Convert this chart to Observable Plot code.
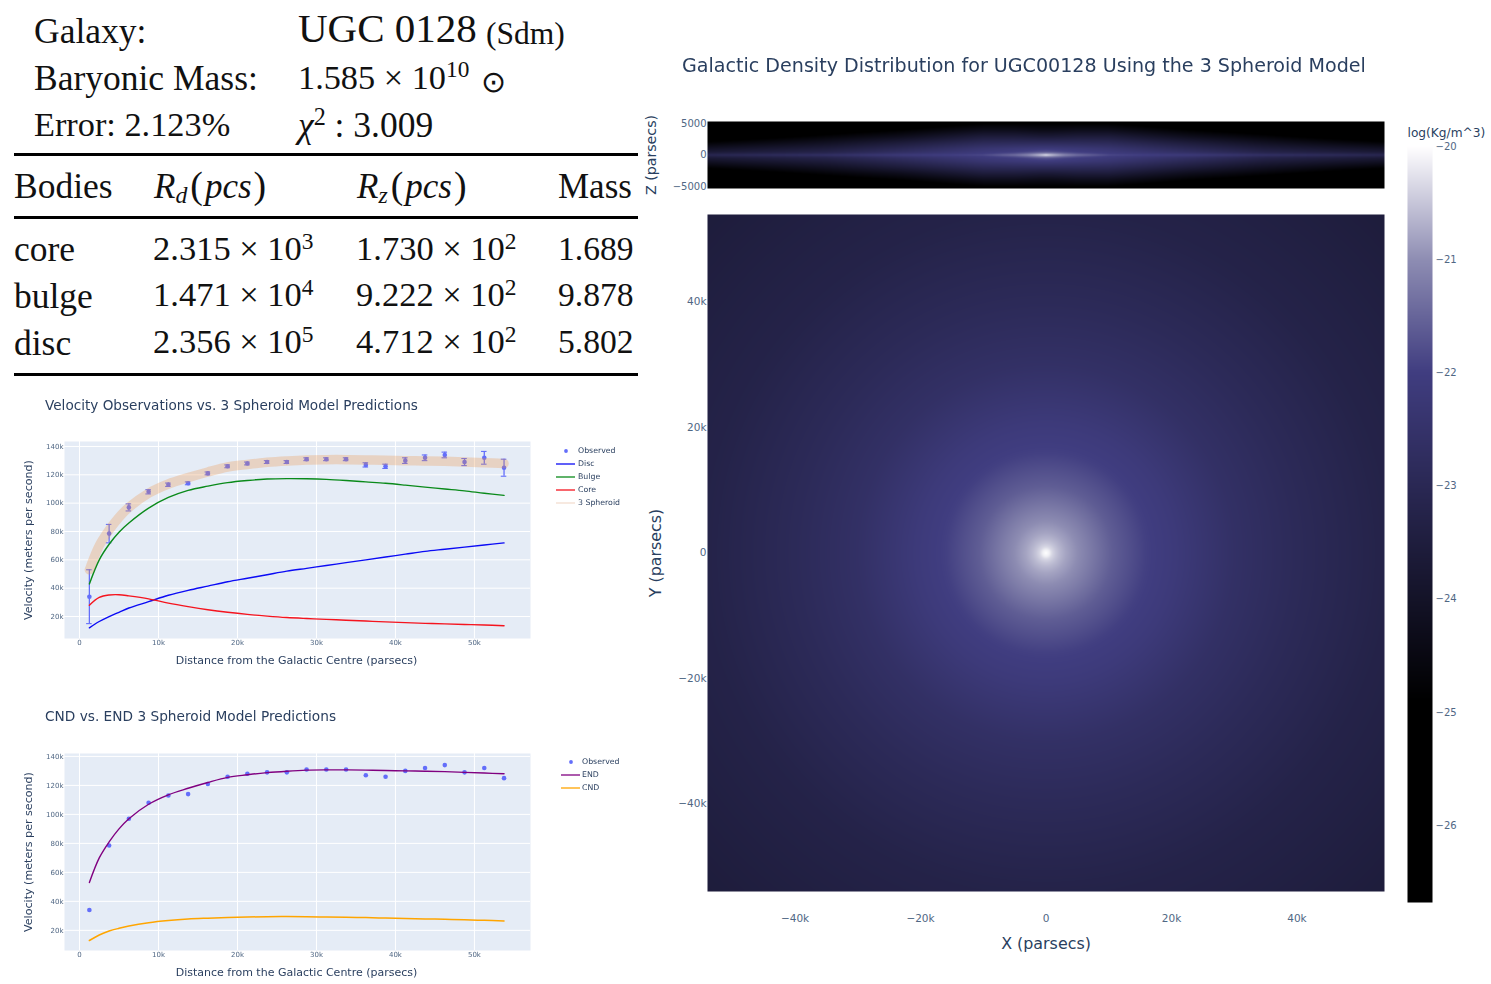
<!DOCTYPE html>
<html><head><meta charset="utf-8">
<script src="https://cdn.jsdelivr.net/npm/d3@7"></script>
<script src="https://cdn.jsdelivr.net/npm/@observablehq/plot@0.6"></script>
<style>
html,body{margin:0;padding:0;background:#fff}
#page{position:relative;width:1491px;height:984px;overflow:hidden;background:#fff}
#page>*{position:absolute}
.tex{font-family:"Liberation Serif",serif;color:#111;white-space:nowrap;line-height:1}
.tex i{font-style:italic}
.tex sup{font-size:.68em;vertical-align:baseline;position:relative;top:-.5em;line-height:0}
.tex sub{font-size:.68em;vertical-align:baseline;position:relative;top:.22em;line-height:0}
.rule{background:#000;left:14px;width:624px}
.t{font-family:"DejaVu Sans",sans-serif;color:#2a3f5f;white-space:nowrap;line-height:1}
.lg{font-family:"DejaVu Sans",sans-serif;color:#2a3f5f;white-space:nowrap;line-height:1}
.soft{filter:blur(.45px)}
svg{overflow:visible}
</style></head><body><div id="page"></div>
<script>
// ---------- data ----------
const bodies = ["core", "bulge", "disc"];
const rdValues = ["2.315 × 10<sup>3</sup>", "1.471 × 10<sup>4</sup>", "2.356 × 10<sup>5</sup>"];
const rzValues = ["1.730 × 10<sup>2</sup>", "9.222 × 10<sup>2</sup>", "4.712 × 10<sup>2</sup>"];
const massValues = ["1.689", "9.878", "5.802"];

const distanceK = [1.25,3.75,6.25,8.75,11.25,13.75,16.25,18.75,21.25,23.75,26.25,28.75,31.25,33.75,36.25,38.75,41.25,43.75,46.25,48.75,51.25,53.75];
const observed  = [34,78.5,97,108,113,114,121,126,128,129,129,131,131,131,127,126,130,132,134,129,132,125];
const obsError  = [19,6.5,2.5,1.5,1.2,1,1,1,1,1,1,1,1,1,1.5,1.5,2,2,2,2.5,4.5,6];
// model curves are read at a few extra radii near the centre, where they bend fast
const curveK    = [1.25,2.5,3.75,5,6.25,8.75,11.25,13.75,16.25,18.75,21.25,23.75,26.25,28.75,31.25,33.75,36.25,38.75,41.25,43.75,46.25,48.75,51.25,53.75];
const discV     = [12,16.5,20,23,26,30.5,35,38.5,41.5,44.5,47,49.5,52,54,56,58,60,62,64,66,67.5,69,70.5,72];
const bulgeV    = [43,60,71,79.5,86,96.5,104,109,112,114.5,116,117,117.3,117.2,116.8,116,115,114,112.7,111.3,110,108.7,107,105.5];
const coreV     = [28,33.5,35.2,35.4,34.6,32.5,29.5,27,24.8,23,21.5,20.3,19.3,18.6,18,17.4,16.8,16.2,15.7,15.2,14.8,14.4,14,13.5];
const spheroidV = [53,70,81,90,97,107,113.5,118,122,125.5,127.3,128.8,129.8,130.5,130.7,130.7,130.5,130.3,130,129.8,129.5,129,128.5,128];
const cndV      = [13,16.8,19.5,21.4,23,25.3,26.8,27.8,28.4,28.9,29.2,29.4,29.5,29.4,29.2,29,28.8,28.5,28.2,27.9,27.6,27.3,26.9,26.5];

const xTicks = [0,10,20,30,40,50];
const vTicks = [20,40,60,80,100,120,140];

// log density against radius in the face-on panel
const faceRadius = [0,.5,1,1.6,2.2,3.2,5.3,8,10.6,13.3,16,17.5,20.7,30,40,54,76];
const faceLog    = [-20,-20.12,-20.36,-20.52,-20.64,-20.8,-21.04,-21.32,-21.59,-21.77,-21.96,-22.02,-22.14,-22.6,-22.9,-23.25,-23.55];
// log density in the edge-on panel: one row per |x|, one column per |z|
const edgeZ = [0,.25,.5,1,2,3,4,5,5.4];
const edgeX = [0,1,3,5,10,23,35,54];
const edge0  = [-20.3,-21,-21.7,-22.1,-22.9,-23.7,-24.4,-24.9,-25.1];
const edge1  = [-20.6,-21.1,-21.75,-22.1,-22.9,-23.7,-24.4,-24.9,-25.1];
const edge3  = [-21.1,-21.5,-21.9,-22.15,-22.9,-23.65,-24.35,-24.9,-25.1];
const edge5  = [-21.4,-21.75,-22,-22.2,-22.9,-23.6,-24.3,-24.9,-25.1];
const edge10 = [-21.85,-22.05,-22.15,-22.35,-22.95,-23.6,-24.3,-24.9,-25.1];
const edge23 = [-22.2,-22.45,-22.7,-23,-23.6,-24.3,-24.9,-25.4,-25.6];
const edge35 = [-22.65,-23,-23.25,-23.55,-24.15,-24.75,-25.3,-25.8,-26];
const edge54 = [-23.1,-23.4,-23.7,-24.05,-24.8,-25.5,-26,-26.4,-26.6];
const edgeRows = [edge0,edge1,edge3,edge5,edge10,edge23,edge35,edge54];

// shared colour ramp
const rampLog = [-26.68,-24.9,-22,-21,-20];
const rampCol = ["#000000","#000000","#403d80","#8e8db3","#ffffff"];
const colorBarTicks = [-20,-21,-22,-23,-24,-25,-26];

// ---------- helpers ----------
const page = document.getElementById("page");
const ink = "#2a3f5f";
const tickInk = "#506784";
const colorScale = {type:"linear", domain:rampLog, range:rampCol, interpolate:"rgb", clamp:true};
const sans = "DejaVu Sans, sans-serif";

function put(node, left, top, cls){
  node.style.left = left+"px"; node.style.top = top+"px";
  if (cls) node.classList.add(cls);
  page.appendChild(node); return node;
}
function html(cls, text, left, top, size){
  const d = document.createElement("div");
  d.className = cls; d.innerHTML = text;
  d.style.left = left+"px"; d.style.top = (top-size*0.5)+"px"; d.style.fontSize = size+"px";
  page.appendChild(d); return d;
}
function lerp(xs, ys, v){
  const i = Math.min(xs.length-2, Math.max(0, d3.bisectRight(xs, v)-1));
  const t = Math.min(1,(v-xs[i])/(xs[i+1]-xs[i]));
  return ys[i]+(ys[i+1]-ys[i])*t;
}
const kFmt = d => d===0 ? "0" : (d<0 ? "−" : "")+Math.abs(d)+"k";

// ---------- LaTeX style header and table ----------
function tex(text,left,base,size){
  const d=document.createElement("div");d.className="tex";d.innerHTML=text;
  d.style.left=left+"px";d.style.top=(base-size*0.86)+"px";d.style.fontSize=size+"px";
  page.appendChild(d);return d;
}
tex("Galaxy:",34,45,35.5);
tex("Baryonic Mass:",34,92,35.5);
tex("Error: 2.123%",34,136,34.3);
tex("UGC 0128",298,43,41);
tex("(Sdm)",486,45,31.5);
tex("1.585 × 10<sup>10</sup>",298,89,34.3);
tex("⊙",481,93,30);
tex("<i>χ</i><sup>2</sup> : 3.009",298,139,35.5);
tex("Bodies",14,200,35.5);
const parens = '<span style="margin:0 2px 0 3px;font-size:1.08em">(</span><i>pcs</i><span style="margin-left:2px;font-size:1.08em">)</span>';
tex("<i>R<sub>d</sub></i>"+parens,154,197,35);
tex("<i>R<sub>z</sub></i>"+parens,357,197,35);
tex("Mass",558,199,35);
const rowBase=[263,309,356];
bodies.forEach((b,i)=>{
  tex(b,14,rowBase[i]+(i?1:0),35.5);
  tex(rdValues[i],153,rowBase[i]-2,34.5);
  tex(rzValues[i],356,rowBase[i]-2,34.5);
  tex(massValues[i],558,rowBase[i]-2,33.6);
});
[[153,3],[216,2.5],[373,3]].forEach(([y,h])=>{
  const r=document.createElement("div");r.className="rule";
  r.style.top=y+"px";r.style.height=h+"px";page.appendChild(r);
});

// ---------- velocity charts ----------
const xDomain=[-1.9,57.1];
const rows = f => curveK.map((x,i)=>({x,v:f[i]}));
const obsRows = distanceK.map((x,i)=>({x,y:observed[i],e:obsError[i]}));

function velocityPlot(yDomain, marks){
  return Plot.plot({
    width:540, height:240,
    marginLeft:64, marginRight:10, marginTop:11, marginBottom:32,
    style:{fontFamily:sans, background:"transparent", color:ink},
    x:{domain:xDomain}, y:{domain:yDomain},
    marks:[
      Plot.frame({fill:"#e5ecf6", stroke:null}),
      Plot.gridX(xTicks,{stroke:"white",strokeOpacity:1,strokeWidth:1}),
      Plot.gridY(vTicks,{stroke:"white",strokeOpacity:1,strokeWidth:1}),
      Plot.axisX(xTicks,{tickSize:0,tickPadding:2,fontSize:7,label:null,tickFormat:kFmt,fill:tickInk}),
      Plot.axisY(vTicks,{tickSize:0,tickPadding:1,fontSize:7,label:null,tickFormat:kFmt,fill:tickInk}),
      Plot.text(["Distance from the Galactic Centre (parsecs)"],{frameAnchor:"bottom",dy:25,dx:-1,fontSize:11,fill:ink,text:d=>d}),
      Plot.text(["Velocity (meters per second)"],{frameAnchor:"left",textAnchor:"middle",dx:-36,rotate:-90,fontSize:11.1,fill:ink,text:d=>d}),
      ...marks
    ]
  });
}
const lineOf = (vals,stroke,w=1.4,op=1)=>Plot.line(rows(vals),{x:"x",y:"v",stroke,strokeWidth:w,strokeOpacity:op,curve:"catmull-rom"});

const chart1 = velocityPlot([4.5,143.5],[
  Plot.ruleX(obsRows,{x:"x",y1:d=>d.y-d.e,y2:d=>d.y+d.e,stroke:"#636efa",strokeWidth:1.3}),
  Plot.ruleY(obsRows,{y:d=>d.y+d.e,x1:d=>d.x-.35,x2:d=>d.x+.35,stroke:"#636efa",strokeWidth:1.1}),
  Plot.ruleY(obsRows,{y:d=>d.y-d.e,x1:d=>d.x-.35,x2:d=>d.x+.35,stroke:"#636efa",strokeWidth:1.1}),
  Plot.dot(obsRows,{x:"x",y:"y",r:2.3,fill:"#636efa"}),
  lineOf(discV,"#0a0af5"),
  lineOf(bulgeV,"#0a8a1a"),
  lineOf(coreV,"#f5141e"),
  lineOf(spheroidV,"rgb(235,140,60)",9.5,.27)
]);
put(chart1,0,430,"soft");

const chart2 = velocityPlot([6.1,142],[
  Plot.dot(obsRows,{x:"x",y:"y",r:2.3,fill:"#636efa"}),
  lineOf(spheroidV,"#800080",1.4),
  lineOf(cndV,"#ffa500",1.5)
]);
put(chart2,0,742,"soft");

html("t soft","Velocity Observations vs. 3 Spheroid Model Predictions",45,406,13.6);
html("t soft","CND vs. END 3 Spheroid Model Predictions",45,717,13.7);
html("t soft","Galactic Density Distribution for UGC00128 Using the 3 Spheroid Model",682,66,19.1);

function legend(items,lineX,textX,top){
  items.forEach((it,i)=>{
    const y=top+i*13;
    const s=d3.create("svg").attr("width",24).attr("height",10)
      .style("position","absolute").style("left",lineX+"px").style("top",(y-5)+"px");
    if(it.dot) s.append("circle").attr("cx",10).attr("cy",5).attr("r",1.9).attr("fill",it.color);
    else s.append("line").attr("x1",0).attr("x2",19).attr("y1",5).attr("y2",5).attr("stroke",it.color).attr("stroke-width",1.3);
    s.node().classList.add("soft");
    page.appendChild(s.node());
    html("lg soft",it.name,textX,y,7.8);
  });
}
legend([{name:"Observed",color:"#636efa",dot:true},{name:"Disc",color:"#0a0af5"},{name:"Bulge",color:"#0a8a1a"},{name:"Core",color:"#f5141e"},{name:"3 Spheroid",color:"#f3ddcf"}],556,578,451);
legend([{name:"Observed",color:"#636efa",dot:true},{name:"END",color:"#800080"},{name:"CND",color:"#ffa500"}],560.5,582,762);

// ---------- density panels ----------
const edgeTicks=[-5000,0,5000];
const topPanel = Plot.plot({
  width:760, height:90, marginLeft:67, marginRight:16, marginTop:11, marginBottom:12,
  style:{fontFamily:sans,background:"transparent",color:ink},
  color:colorScale,
  x:{domain:[-53.95,53.95],axis:null}, y:{domain:[-5350,5350],axis:null},
  marks:[
    Plot.raster({x1:-53.95,x2:53.95,y1:-5350,y2:5350,pixelSize:1,
      fill:(x,y)=>{
        const z=Math.abs(y)/1000;
        return lerp(edgeX, edgeRows.map(r=>lerp(edgeZ,r,z)), Math.abs(x));
      }}),
    Plot.axisY(edgeTicks,{tickSize:0,tickPadding:1,fontSize:10,label:null,fill:tickInk,tickFormat:d=>d<0?"−"+(-d):""+d}),
    Plot.text(["Z (parsecs)"],{frameAnchor:"left",textAnchor:"middle",dx:-56,rotate:-90,fontSize:14.2,fill:ink,text:d=>d})
  ]
});
put(topPanel,640,110);

const mainTicks=[-40,-20,0,20,40];
const mainPanel = Plot.plot({
  width:760, height:770, marginLeft:67, marginRight:16, marginTop:14, marginBottom:79,
  style:{fontFamily:sans,background:"transparent",color:ink},
  color:colorScale,
  x:{domain:[-53.95,53.95]}, y:{domain:[-53.95,53.95]},
  marks:[
    Plot.raster({x1:-53.95,x2:53.95,y1:-53.95,y2:53.95,pixelSize:1,
      fill:(x,y)=>lerp(faceRadius,faceLog,Math.hypot(x,y))}),
    Plot.axisX(mainTicks,{tickSize:0,tickPadding:23,fontSize:10.5,label:null,tickFormat:kFmt,fill:tickInk}),
    Plot.axisY(mainTicks,{tickSize:0,tickPadding:1,fontSize:10.5,label:null,tickFormat:kFmt,fill:tickInk}),
    Plot.text(["X (parsecs)"],{frameAnchor:"bottom",dy:57,fontSize:15.9,fill:ink,text:d=>d}),
    Plot.text(["Y (parsecs)"],{frameAnchor:"left",textAnchor:"middle",dx:-52,rotate:-90,fontSize:15.9,fill:ink,text:d=>d})
  ]
});
put(mainPanel,640,200);

const colorBar = Plot.plot({
  width:91, height:800, marginLeft:7, marginRight:59, marginTop:26, marginBottom:18,
  style:{fontFamily:sans,background:"transparent",color:ink},
  color:colorScale,
  x:{domain:[0,1],axis:null}, y:{domain:[-26.68,-20],axis:null},
  marks:[
    Plot.raster({x1:0,x2:1,y1:-26.68,y2:-20,pixelSize:1,fill:(x,y)=>y}),
    Plot.axisY(colorBarTicks,{anchor:"right",tickSize:0,tickPadding:3,fontSize:10,label:null,fill:tickInk,tickFormat:d=>"−"+(-d)}),
    Plot.text(["log(Kg/m^3)"],{frameAnchor:"top-left",dy:-18,textAnchor:"start",fontSize:12.2,fill:ink,text:d=>d})
  ]
});
put(colorBar,1400,120);
</script></body></html>
